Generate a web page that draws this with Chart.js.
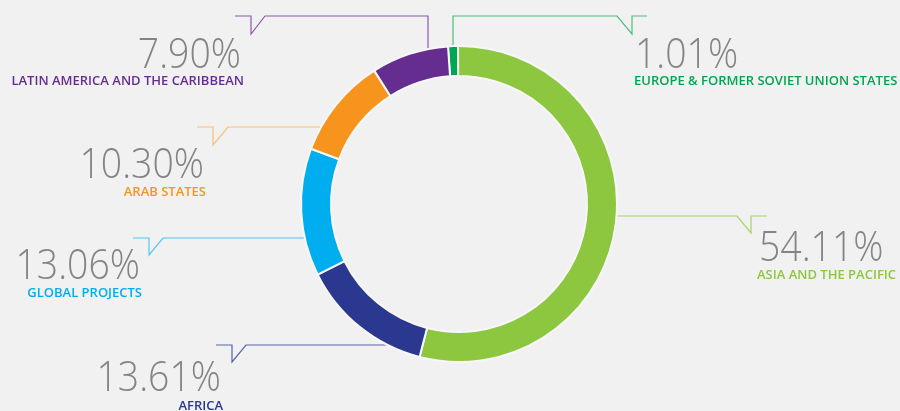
<!DOCTYPE html>
<html>
<head>
<meta charset="utf-8">
<script src="https://cdn.jsdelivr.net/npm/chart.js@4.4.1/dist/chart.umd.min.js"></script>
<style>
  html, body { margin: 0; padding: 0; background: #f1f1f1; }
  #wrap { width: 900px; height: 411px; position: relative; }
</style>
</head>
<body>
<div id="wrap"><canvas id="c" width="900" height="411"></canvas></div>
<script>
// ---- data ----
const regions = ['EUROPE & FORMER SOVIET UNION STATES', 'ASIA AND THE PACIFIC', 'AFRICA', 'GLOBAL PROJECTS', 'ARAB STATES', 'LATIN AMERICA AND THE CARIBBEAN'];
const shares = [1.01, 54.11, 13.61, 13.06, 10.30, 7.90];
const shareLabels = ['1.01%', '54.11%', '13.61%', '13.06%', '10.30%', '7.90%'];
const sliceColors = ['#00a651', '#8dc63f', '#2b388f', '#00aeef', '#f7941d', '#662d91'];
const lineColors = ['#4cbf7e', '#a6d46a', '#5a64ab', '#55c6f0', '#f8bf78', '#8a5aab'];

// ---- callout layout (per slice) ----
const callouts = [
  { dir: 'v', at: 453, path: [[453,16],[617,16],[632,34],[632,16],[647,16]], pct: [635,68,'left'], name: [634,85,'left'] },
  { dir: 'h', at: 216, path: [[737,216],[751,233],[751,216],[767,216]], pct: [759,261,'left'], name: [757,279,'left'] },
  { dir: 'h', at: 345, path: [[246,345],[232,362],[232,345],[216,345]], pct: [221,391,'right'], name: [223,410,'right'] },
  { dir: 'h', at: 238, path: [[163,238],[149,255],[149,238],[133,238]], pct: [140,279,'right'], name: [142,297,'right'] },
  { dir: 'h', at: 127, path: [[228,127],[213,145],[213,127],[197,127]], pct: [204,178,'right'], name: [206,196,'right'] },
  { dir: 'v', at: 428, path: [[428,16],[265,16],[251,34],[251,16],[235,16]], pct: [241,68,'right'], name: [244,85,'right'] }
];

const calloutPlugin = {
  id: 'callouts',
  beforeDatasetsDraw(chart) {
    const arc = chart.getDatasetMeta(0).data[0];
    const cx = arc.x, cy = arc.y, r = arc.outerRadius - 4;
    const ctx = chart.ctx;
    ctx.save();
    ctx.lineWidth = 1.2;
    callouts.forEach((c, i) => {
      let sx, sy;
      if (c.dir === 'v') {
        sx = c.at;
        sy = cy - Math.sqrt(r*r - (c.at - cx)*(c.at - cx));
      } else {
        sy = c.at;
        const d = Math.sqrt(r*r - (c.at - cy)*(c.at - cy));
        sx = c.path[0][0] > cx ? cx + d : cx - d;
      }
      ctx.strokeStyle = lineColors[i];
      ctx.beginPath();
      ctx.moveTo(sx, sy);
      c.path.forEach(p => ctx.lineTo(p[0], p[1]));
      ctx.stroke();
    });
    ctx.restore();
  },
  afterDatasetsDraw(chart) {
    const ctx = chart.ctx;
    ctx.save();
    ctx.textBaseline = 'alphabetic';
    callouts.forEach((c, i) => {
      ctx.save();
      ctx.font = '300 43px "Open Sans"';
      ctx.fillStyle = '#838486';
      ctx.textAlign = c.pct[2];
      ctx.translate(c.pct[0], c.pct[1]);
      ctx.scale(0.87, 1);
      ctx.fillText(shareLabels[i], 0, 0);
      ctx.restore();
      ctx.save();
      ctx.font = '600 13px "Open Sans"';
      ctx.fillStyle = sliceColors[i];
      ctx.textAlign = c.name[2];
      ctx.translate(c.name[0], c.name[1]);
      ctx.scale(1.0, 1);
      ctx.fillText(regions[i], 0, 0);
      ctx.restore();
    });
    ctx.restore();
  }
};

new Chart(document.getElementById('c'), {
  type: 'doughnut',
  data: {
    labels: regions,
    datasets: [{
      data: shares,
      backgroundColor: sliceColors,
      borderColor: '#f7f7f7',
      borderWidth: 2,
      hoverOffset: 0
    }]
  },
  options: {
    responsive: false,
    animation: false,
    rotation: -4,
    radius: 158,
    cutout: '81%',
    layout: { padding: { left: 18, bottom: 3 } },
    plugins: { legend: { display: false }, tooltip: { enabled: false } }
  },
  plugins: [calloutPlugin]
});
</script>
</body>
</html>
